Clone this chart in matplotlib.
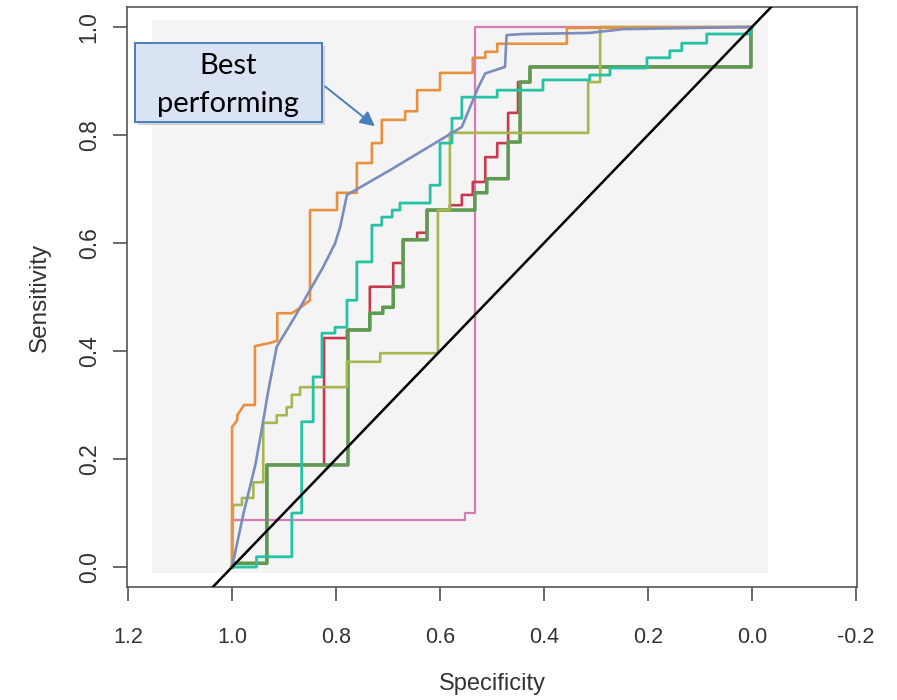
import matplotlib
matplotlib.use('Agg')
import matplotlib.pyplot as plt
from matplotlib.patches import Rectangle

plt.rcParams['font.family'] = ['Liberation Sans', 'DejaVu Sans']
plt.rcParams['axes.unicode_minus'] = False

# ROC curves: (specificity, sensitivity) vertices
orange_spec = [1.0, 1.0, 0.990, 0.990, 0.977, 0.956, 0.956, 0.927, 0.913, 0.913, 0.885, 0.869, 0.850,
               0.850, 0.798, 0.798, 0.760, 0.760, 0.731, 0.731, 0.712, 0.712, 0.667, 0.667, 0.644,
               0.644, 0.600, 0.600, 0.537, 0.537, 0.513, 0.513, 0.490, 0.490, 0.356, 0.356, 0.0]
orange_sens = [0.0, 0.259, 0.272, 0.281, 0.300, 0.300, 0.409, 0.415, 0.419, 0.470, 0.470, 0.480, 0.494,
               0.661, 0.661, 0.693, 0.693, 0.748, 0.748, 0.785, 0.785, 0.828, 0.828, 0.844, 0.844,
               0.883, 0.883, 0.915, 0.915, 0.943, 0.943, 0.954, 0.954, 0.969, 0.969, 0.998, 1.0]

blue_spec = [1.0, 0.978, 0.955, 0.943, 0.930, 0.914, 0.880, 0.850, 0.825, 0.802, 0.792, 0.779, 0.696,
             0.568, 0.558, 0.542, 0.526, 0.513, 0.475, 0.472, 0.440, 0.312, 0.248, 0.0]
blue_sens = [0.0, 0.099, 0.190, 0.254, 0.328, 0.408, 0.462, 0.513, 0.555, 0.599, 0.630, 0.689, 0.735,
             0.809, 0.815, 0.852, 0.889, 0.914, 0.926, 0.985, 0.987, 0.989, 0.996, 1.0]

teal_spec = [1.0, 0.953, 0.953, 0.885, 0.885, 0.866, 0.866, 0.844, 0.844, 0.827, 0.827, 0.802, 0.802,
             0.779, 0.779, 0.760, 0.760, 0.731, 0.731, 0.712, 0.712, 0.692, 0.692, 0.677, 0.677, 0.619,
             0.619, 0.600, 0.600, 0.577, 0.577, 0.558, 0.558, 0.490, 0.490, 0.402, 0.402, 0.312, 0.312,
             0.273, 0.273, 0.202, 0.202, 0.158, 0.158, 0.135, 0.135, 0.087, 0.087, 0.004, 0.0]
teal_sens = [0.0, 0.0, 0.019, 0.019, 0.100, 0.100, 0.269, 0.269, 0.352, 0.352, 0.433, 0.433, 0.444,
             0.444, 0.494, 0.494, 0.565, 0.565, 0.633, 0.633, 0.648, 0.648, 0.661, 0.661, 0.674, 0.674,
             0.707, 0.707, 0.785, 0.785, 0.831, 0.831, 0.870, 0.870, 0.883, 0.883, 0.902, 0.902, 0.911,
             0.911, 0.924, 0.924, 0.943, 0.943, 0.956, 0.956, 0.970, 0.970, 0.987, 0.987, 1.0]

red_spec = [1.0, 0.998, 0.933, 0.933, 0.823, 0.823, 0.779, 0.779, 0.735, 0.735, 0.690, 0.690, 0.671,
            0.671, 0.644, 0.644, 0.625, 0.625, 0.581, 0.581, 0.558, 0.558, 0.537, 0.537, 0.513, 0.513,
            0.490, 0.490, 0.469, 0.469, 0.450, 0.450, 0.427, 0.427, 0.002, 0.002]
red_sens = [0.0, 0.007, 0.007, 0.189, 0.189, 0.424, 0.424, 0.439, 0.439, 0.519, 0.519, 0.563, 0.563,
            0.606, 0.606, 0.619, 0.619, 0.661, 0.661, 0.670, 0.670, 0.689, 0.689, 0.713, 0.713, 0.759,
            0.759, 0.785, 0.785, 0.841, 0.841, 0.898, 0.898, 0.926, 0.926, 0.998]

green_spec = [1.0, 0.998, 0.933, 0.933, 0.777, 0.777, 0.735, 0.735, 0.710, 0.710, 0.690, 0.690, 0.671,
              0.671, 0.625, 0.625, 0.533, 0.533, 0.510, 0.510, 0.469, 0.469, 0.446, 0.446, 0.427,
              0.427, 0.002, 0.002]
green_sens = [0.0, 0.007, 0.007, 0.189, 0.189, 0.439, 0.439, 0.470, 0.470, 0.481, 0.481, 0.519, 0.519,
              0.606, 0.606, 0.661, 0.661, 0.693, 0.693, 0.719, 0.719, 0.787, 0.787, 0.898, 0.898,
              0.926, 0.926, 0.998]

olive_spec = [1.0, 0.998, 0.981, 0.981, 0.959, 0.959, 0.940, 0.940, 0.914, 0.914, 0.895, 0.895, 0.885,
              0.885, 0.869, 0.869, 0.779, 0.779, 0.715, 0.715, 0.604, 0.604, 0.581, 0.581, 0.315,
              0.315, 0.292, 0.292, 0.0]
olive_sens = [0.0, 0.115, 0.115, 0.128, 0.128, 0.157, 0.157, 0.267, 0.267, 0.281, 0.281, 0.296, 0.296,
              0.319, 0.319, 0.333, 0.333, 0.380, 0.380, 0.396, 0.396, 0.661, 0.661, 0.804, 0.804,
              0.898, 0.898, 1.0, 1.0]

pink_spec = [1.0, 1.0, 0.552, 0.552, 0.533, 0.533, 0.0]
pink_sens = [0.0, 0.087, 0.087, 0.100, 0.100, 1.0, 1.0]

x_ticks = [1.2, 1.0, 0.8, 0.6, 0.4, 0.2, 0.0, -0.2]
x_labels = ['1.2', '1.0', '0.8', '0.6', '0.4', '0.2', '0.0', '-0.2']
y_ticks = [0.0, 0.2, 0.4, 0.6, 0.8, 1.0]
y_labels = ['0.0', '0.2', '0.4', '0.6', '0.8', '1.0']

fig = plt.figure(figsize=(8.97, 7.0), dpi=100)
ax = fig.add_axes([0.1416, 0.1614, 0.8138, 0.8286])

# light grey panel behind the curves
ax.add_patch(Rectangle((1.154, -0.011), -1.185, 1.024, facecolor='#f4f4f4', edgecolor='none', zorder=0))

ax.plot(pink_spec, pink_sens, color='#d57ab3', lw=1.6, zorder=2)
ax.plot(red_spec, red_sens, color='#c8394f', lw=1.9, zorder=3)
ax.plot(green_spec, green_sens, color='#5f9a52', lw=2.6, zorder=4)
ax.plot(olive_spec, olive_sens, color='#a8b650', lw=1.9, zorder=4)
ax.plot(teal_spec, teal_sens, color='#25c2a5', lw=2.0, zorder=5)
ax.plot(orange_spec, orange_sens, color='#e8903f', lw=1.9, zorder=6)
ax.plot(blue_spec, blue_sens, color='#7b8cbd', lw=1.9, zorder=7)
ax.axline((1, 0), (0, 1), color='black', lw=1.8, zorder=8)

ax.set_xlim(1.202, -0.202)
ax.set_ylim(-0.037, 1.037)
ax.set_xticks(x_ticks)
ax.set_xticklabels(x_labels)
ax.set_yticks(y_ticks)
ax.set_yticklabels(y_labels, rotation=90, va='center')
ax.tick_params(axis='both', length=10, width=1.1, color='#444444', labelcolor='#333333')
ax.tick_params(axis='x', labelsize=15.5, pad=19)
ax.tick_params(axis='y', labelsize=16.5, pad=9)
for s in ax.spines.values():
    s.set_color('#555555')
    s.set_linewidth(1.2)

ax.set_xlabel('Specificity', fontsize=17, color='#333333', labelpad=18)
ax.set_ylabel('Sensitivity', fontsize=17.5, color='#333333', labelpad=19)

# callout box
ax.add_patch(Rectangle((0.015, 0.796), 0.256, 0.136, transform=ax.transAxes, facecolor='#b8b8b8',
                       edgecolor='none', alpha=0.6, clip_on=False, zorder=9))
ax.add_patch(Rectangle((0.011, 0.802), 0.256, 0.136, transform=ax.transAxes, facecolor='#dae3f3',
                       edgecolor='#4a7ebb', lw=1.4, clip_on=False, zorder=10))
ax.text(0.138, 0.898, 'Best', transform=ax.transAxes, ha='center', va='center', fontsize=21,
        family='Lato', color='black', zorder=11)
ax.text(0.138, 0.832, 'performing', transform=ax.transAxes, ha='center', va='center', fontsize=21,
        family='Lato', color='black', zorder=11)
ax.annotate('', xy=(0.721, 0.813), xytext=(0.825, 0.893),
            arrowprops=dict(arrowstyle='-|>', color='#4a7ebb', lw=1.4, mutation_scale=22), zorder=11)

fig.savefig('out.png', dpi=100)
